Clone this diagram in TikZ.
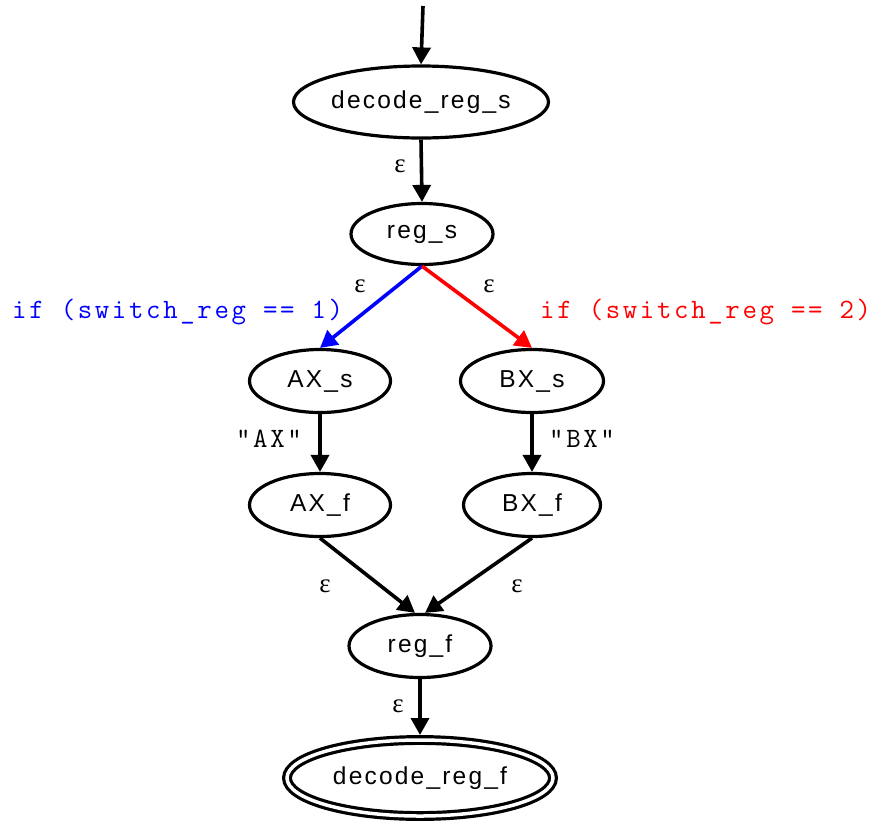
\documentclass[tikz,border=0pt]{standalone}
\usepackage{fontspec}
\setmainfont{Liberation Sans}
\newfontfamily\statefont[LetterSpace=9]{Liberation Sans}
\newfontfamily\epsfont{Liberation Serif}
\newfontfamily\codefont[LetterSpace=9.5]{Latin Modern Mono}
\usetikzlibrary{shapes.geometric,arrows.meta}

\definecolor{condblue}{RGB}{0,0,255}
\definecolor{condred}{RGB}{255,0,0}

\tikzset{
  state/.style={ellipse, draw, line width=3.2pt, inner sep=0pt,
    font=\statefont\fontsize{24.5}{28}\selectfont},
  final/.style={state, double, double distance=3.5pt, outer sep=5pt},
  trans/.style={draw, line width=3.6pt, -{Triangle[length=17pt,width=18pt]}},
  eps/.style={font=\epsfont\fontsize{27}{30}\selectfont, inner sep=0pt},
  code/.style={font=\codefont\fontsize{28}{30}\selectfont, inner sep=0pt},
}

\begin{document}
\begin{tikzpicture}[x=1pt,y=-1pt]
  \useasboundingbox (0,0) rectangle (875,825);

  % states
  \node[state, minimum width=255pt, minimum height=72pt] (drs) at (421,102) {decode\_reg\_s};
  \node[state, minimum width=142pt, minimum height=61pt] (rs)  at (422,234) {reg\_s};
  \node[state, minimum width=141pt, minimum height=63pt] (axs) at (320,381) {AX\_s};
  \node[state, minimum width=143pt, minimum height=63pt] (bxs) at (532,381) {BX\_s};
  \node[state, minimum width=141pt, minimum height=63pt] (axf) at (320,505) {AX\_f};
  \node[state, minimum width=137pt, minimum height=63pt] (bxf) at (532,505) {BX\_f};
  \node[state, minimum width=142pt, minimum height=63pt] (rf)  at (420,646) {reg\_f};
  \node[final, minimum width=266pt, minimum height=76pt] (drf) at (420,778) {decode\_reg\_f};

  % entry arrow
  \coordinate (entry) at (423,6);
  \draw[trans] (entry) -- (drs.north);

  % transitions
  \draw[trans] (drs.south) -- (rs.north);
  \draw[trans, condblue] (rs.south) -- (axs.north);
  \draw[trans, condred]  (rs.south) -- (bxs.north);
  \draw[trans] (axs.south) -- (axf.north);
  \draw[trans] (bxs.south) -- (bxf.north);
  \draw[trans] (axf.south) -- ([xshift=-5pt]rf.north);
  \draw[trans] (bxf.south) -- ([xshift=5pt]rf.north);
  \draw[trans] (rf.south) -- (drf.north);

  % transition labels
  \node[eps] (l1) at (400,166) {ε};
  \node[eps] (l2) at (360,286) {ε};
  \node[eps] (l3) at (489,286) {ε};
  \node[eps] (l4) at (325,586) {ε};
  \node[eps] (l5) at (517,586) {ε};
  \node[eps] (l6) at (398,706) {ε};

  \node[code, condblue, anchor=west] (c1) at (12,312) {if (switch\_reg == 1)};
  \node[code, condred,  anchor=west] (c2) at (540,312) {if (switch\_reg == 2)};
  \node[code, anchor=east] (sa) at (302,439) {"AX"};
  \node[code, anchor=west] (sb) at (549,439) {"BX"};
\end{tikzpicture}
\end{document}
